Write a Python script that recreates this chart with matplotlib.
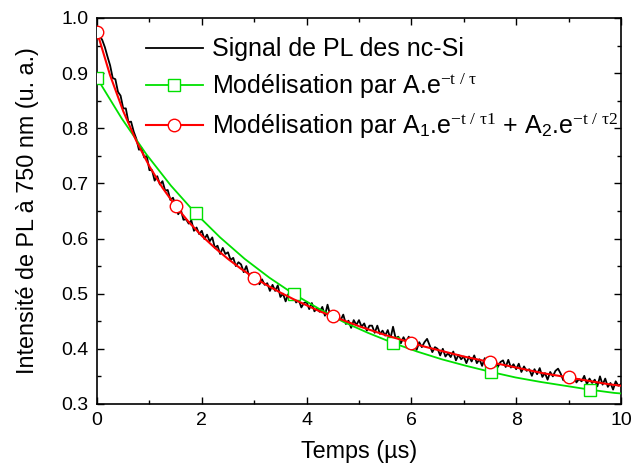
import numpy as np
import matplotlib
matplotlib.use("Agg")
import matplotlib.pyplot as plt
from matplotlib.ticker import MultipleLocator

plt.rcParams["font.family"] = ["Liberation Sans", "DejaVu Sans"]
plt.rcParams["mathtext.fontset"] = "custom"
plt.rcParams["mathtext.rm"] = "Liberation Serif"
plt.rcParams["mathtext.it"] = "Liberation Serif"

# signal de PL (pas de 0.05 µs)
t_signal = np.linspace(0, 10, 201)
pl_signal = [
    0.970, 0.968, 0.960, 0.947, 0.930,
    0.914, 0.891, 0.889, 0.866, 0.859,
    0.836, 0.836, 0.811, 0.812, 0.794,
    0.781, 0.761, 0.764, 0.747, 0.750,
    0.724, 0.724, 0.705, 0.713, 0.698,
    0.704, 0.687, 0.688, 0.670, 0.674,
    0.661, 0.644, 0.652, 0.634, 0.635,
    0.627, 0.633, 0.614, 0.620, 0.608,
    0.614, 0.599, 0.607, 0.595, 0.602,
    0.583, 0.587, 0.572, 0.583, 0.572,
    0.575, 0.561, 0.565, 0.550, 0.557,
    0.553, 0.539, 0.550, 0.533, 0.537,
    0.526, 0.534, 0.517, 0.526, 0.516,
    0.519, 0.505, 0.516, 0.505, 0.515,
    0.494, 0.500, 0.486, 0.499, 0.489,
    0.496, 0.484, 0.489, 0.475, 0.483,
    0.485, 0.472, 0.483, 0.468, 0.473,
    0.467, 0.476, 0.460, 0.480, 0.461,
    0.463, 0.450, 0.461, 0.452, 0.462,
    0.445, 0.451, 0.438, 0.452, 0.443,
    0.452, 0.440, 0.446, 0.433, 0.442,
    0.442, 0.429, 0.442, 0.427, 0.433,
    0.424, 0.434, 0.418, 0.440, 0.419,
    0.422, 0.410, 0.421, 0.412, 0.422,
    0.404, 0.411, 0.398, 0.412, 0.403,
    0.412, 0.418, 0.406, 0.394, 0.403,
    0.400, 0.388, 0.400, 0.386, 0.392,
    0.385, 0.395, 0.379, 0.389, 0.381,
    0.386, 0.374, 0.386, 0.377, 0.388,
    0.374, 0.381, 0.369, 0.383, 0.375,
    0.384, 0.373, 0.379, 0.367, 0.376,
    0.379, 0.367, 0.380, 0.366, 0.372,
    0.363, 0.373, 0.358, 0.368, 0.360,
    0.363, 0.351, 0.363, 0.354, 0.365,
    0.349, 0.356, 0.344, 0.358, 0.350,
    0.360, 0.364, 0.355, 0.343, 0.352,
    0.352, 0.340, 0.353, 0.339, 0.345,
    0.341, 0.351, 0.336, 0.346, 0.338,
    0.344, 0.332, 0.350, 0.335, 0.346,
    0.331, 0.338, 0.326, 0.341, 0.333,
    0.336,
]

# modélisation mono-exponentielle (vert)
t_mono = [0.00, 0.47, 0.94, 1.41, 1.88, 2.35, 2.82, 3.29, 3.76, 4.23, 4.70,
          5.17, 5.64, 6.11, 6.58, 7.05, 7.52, 7.99, 8.46, 8.93, 9.40, 9.87, 10.0]
fit_mono = [0.891, 0.818, 0.753, 0.696, 0.646, 0.602, 0.563, 0.529, 0.499, 0.473,
            0.449, 0.429, 0.411, 0.395, 0.381, 0.369, 0.358, 0.348, 0.340, 0.333,
            0.326, 0.320, 0.319]

# modélisation bi-exponentielle (rouge)
t_bi = np.linspace(0, 10, 41)
fit_bi = [0.975, 0.896, 0.831, 0.777, 0.731, 0.692, 0.659, 0.630, 0.605, 0.583,
          0.563, 0.545, 0.529, 0.515, 0.502, 0.490, 0.479, 0.468, 0.459, 0.450,
          0.441, 0.433, 0.425, 0.418, 0.411, 0.404, 0.398, 0.392, 0.386, 0.381,
          0.376, 0.371, 0.366, 0.361, 0.356, 0.352, 0.348, 0.344, 0.340, 0.336,
          0.333]

fig = plt.figure(figsize=(6.32, 4.73), dpi=100)
ax = fig.add_axes([0.1535, 0.146, 0.829, 0.816])

ax.plot(t_signal, pl_signal, color="black", lw=1.3, zorder=2,
        label="Signal de PL des nc-Si")
ax.plot(t_mono, fit_mono, color="#00e000", lw=1.3, marker="s", ms=8,
        mfc="white", mec="#00e000", mew=1.0, markevery=[0, 4, 8, 12, 16, 20],
        zorder=3, label=r"Modélisation par A.e$^{\mathrm{-t\ /\ \tau}}$")
ax.plot(t_bi, fit_bi, color="red", lw=1.5, marker="o", ms=9,
        mfc="white", mec="red", mew=1.0, markevery=[0, 6, 12, 18, 24, 30, 36],
        zorder=4,
        label=r"Modélisation par A$_{\mathregular{1}}$.e$^{\mathrm{-t\ /\ \tau 1}}$"
              r" + A$_{\mathregular{2}}$.e$^{\mathrm{-t\ /\ \tau 2}}$")

ax.set_xlim(0, 10)
ax.set_ylim(0.3, 1.0)
ax.xaxis.set_major_locator(MultipleLocator(2))
ax.xaxis.set_minor_locator(MultipleLocator(1))
ax.yaxis.set_major_locator(MultipleLocator(0.1))
ax.yaxis.set_minor_locator(MultipleLocator(0.05))
ax.tick_params(which="both", direction="in", top=True, right=True,
               labelsize=14, width=1.0)
ax.tick_params(which="major", length=5, pad=6)
ax.tick_params(which="minor", length=3)
for sp in ax.spines.values():
    sp.set_linewidth(1.2)

ax.set_xlabel("Temps (µs)", fontsize=16.8, labelpad=8)
ax.set_ylabel("Intensité de PL à 750 nm (u. a.)", fontsize=16.8, labelpad=16)

ax.legend(loc="upper left", bbox_to_anchor=(0.0935, 0.95), frameon=False,
          fontsize=18, handlelength=2.28, handletextpad=0.36, labelspacing=0.42,
          borderaxespad=0, borderpad=0)

fig.savefig("out.png", dpi=100)
